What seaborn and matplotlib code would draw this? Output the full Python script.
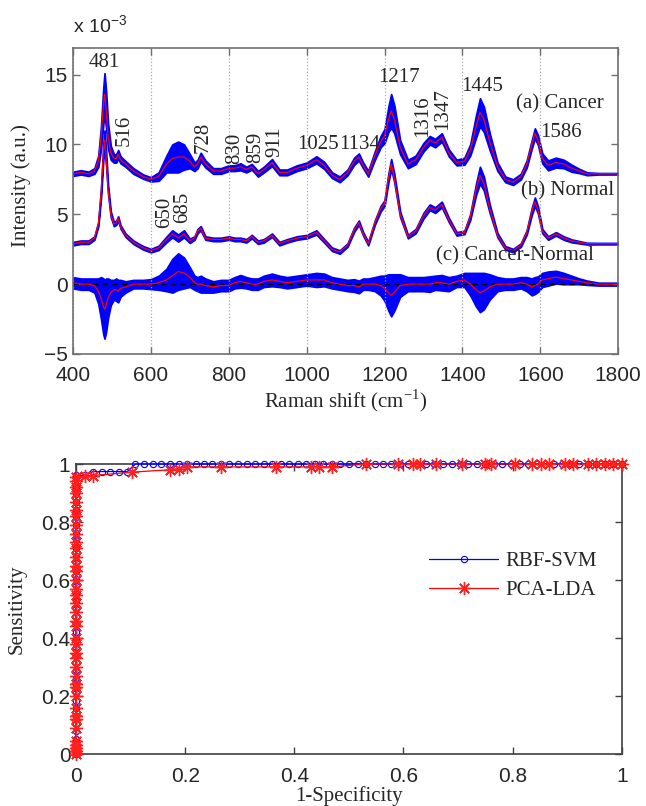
import numpy as np
import matplotlib
matplotlib.use("Agg")
import matplotlib.pyplot as plt
import seaborn as sns

# Raman shift grid (cm^-1)
shift = [400, 420, 440, 455, 465, 472, 478, 481, 485, 490,
         497, 505, 511, 516, 522, 535, 555, 580, 600, 620,
         640, 655, 670, 685, 700, 712, 720, 728, 740, 760,
         780, 800, 815, 830, 845, 859, 875, 890, 911, 930,
         950, 975, 1000, 1025, 1045, 1065, 1085, 1105, 1122, 1134,
         1145, 1158, 1175, 1190, 1200, 1210, 1217, 1225, 1240, 1260,
         1280, 1300, 1316, 1330, 1347, 1365, 1385, 1405, 1420, 1435,
         1445, 1455, 1470, 1490, 1510, 1530, 1550, 1565, 1578, 1586,
         1594, 1605, 1620, 1640, 1660, 1680, 1700, 1720, 1750, 1800]

# mean spectra (x 1e-3, offset as in the figure)
cancer_mean = [7.9, 8.0, 7.9, 8.1, 8.8, 10.5, 12.8, 13.6, 12.5, 10.6,
               9.4, 9.0, 9.0, 9.3, 8.9, 8.6, 8.1, 7.7, 7.5, 7.7,
               8.6, 9.0, 9.1, 9.1, 8.8, 8.4, 8.6, 9.1, 8.6, 8.1,
               8.1, 8.3, 8.3, 8.4, 8.2, 8.4, 7.9, 8.2, 8.7, 8.0,
               8.0, 8.3, 8.5, 8.9, 8.5, 7.8, 7.5, 8.0, 8.8, 9.1,
               8.5, 7.9, 9.2, 10.2, 10.6, 11.8, 12.4, 11.8, 9.8, 8.6,
               8.9, 9.8, 10.3, 10.1, 10.5, 9.4, 8.7, 8.8, 9.6, 11.3,
               12.3, 11.8, 10.2, 8.4, 7.5, 7.3, 7.7, 8.6, 10.0, 10.8,
               10.3, 9.0, 8.5, 8.7, 8.6, 8.3, 8.1, 7.9, 7.9, 7.9]
cancer_sd = [0.15, 0.15, 0.15, 0.2, 0.4, 0.8, 1.3, 1.5, 1.3, 0.9,
             0.5, 0.3, 0.3, 0.3, 0.25, 0.2, 0.2, 0.15, 0.15, 0.3,
             0.6, 1.0, 1.1, 0.9, 0.5, 0.3, 0.3, 0.3, 0.25, 0.2,
             0.2, 0.2, 0.2, 0.25, 0.2, 0.2, 0.2, 0.2, 0.25, 0.2,
             0.2, 0.2, 0.2, 0.25, 0.25, 0.2, 0.2, 0.2, 0.25, 0.25,
             0.2, 0.2, 0.3, 0.4, 0.5, 0.9, 1.2, 1.0, 0.5, 0.3,
             0.3, 0.3, 0.3, 0.3, 0.3, 0.25, 0.2, 0.25, 0.4, 0.8,
             1.0, 0.9, 0.6, 0.3, 0.2, 0.2, 0.2, 0.25, 0.3, 0.35,
             0.35, 0.35, 0.35, 0.35, 0.3, 0.25, 0.15, 0.1, 0.05, 0.05]

normal_mean = [2.9, 3.0, 3.0, 3.3, 4.3, 6.5, 9.5, 10.3, 9.0, 6.8,
               5.0, 4.3, 4.4, 4.7, 4.1, 3.5, 3.0, 2.6, 2.4, 2.6,
               3.2, 3.6, 3.3, 3.6, 3.1, 3.3, 3.8, 4.0, 3.3, 3.2,
               3.2, 3.3, 3.2, 3.2, 3.1, 3.4, 3.0, 3.1, 3.5, 2.9,
               3.1, 3.3, 3.4, 3.7, 3.1, 2.5, 2.3, 2.8, 3.9, 4.4,
               3.6, 2.9, 4.4, 5.4, 5.8, 7.6, 8.6, 7.6, 5.0, 3.4,
               3.8, 4.9, 5.5, 5.3, 5.7, 4.6, 3.6, 3.7, 4.8, 6.8,
               7.8, 7.2, 5.4, 3.5, 2.6, 2.4, 2.8, 3.7, 5.2, 5.9,
               5.3, 3.8, 3.3, 3.6, 3.3, 3.1, 3.0, 2.9, 2.9, 2.9]
normal_sd = [0.12, 0.12, 0.12, 0.12, 0.15, 0.3, 0.5, 0.7, 0.5, 0.3,
             0.2, 0.15, 0.15, 0.15, 0.12, 0.12, 0.12, 0.12, 0.12, 0.15,
             0.2, 0.25, 0.25, 0.25, 0.15, 0.12, 0.15, 0.15, 0.12, 0.12,
             0.12, 0.12, 0.12, 0.12, 0.12, 0.12, 0.12, 0.12, 0.12, 0.12,
             0.12, 0.12, 0.12, 0.15, 0.12, 0.12, 0.12, 0.12, 0.15, 0.15,
             0.12, 0.12, 0.15, 0.2, 0.2, 0.3, 0.35, 0.3, 0.2, 0.12,
             0.15, 0.2, 0.2, 0.2, 0.2, 0.15, 0.12, 0.12, 0.2, 0.4,
             0.6, 0.5, 0.3, 0.15, 0.12, 0.12, 0.12, 0.15, 0.25, 0.3,
             0.25, 0.15, 0.12, 0.12, 0.12, 0.1, 0.08, 0.06, 0.05, 0.05]

diff_mean = [0.1, 0.0, 0.0, -0.1, -0.5, -1.0, -1.6, -1.8, -1.5, -1.0,
             -0.6, -0.4, -0.4, -0.5, -0.3, -0.2, 0.0, 0.0, 0.0, 0.1,
             0.3, 0.6, 0.9, 0.8, 0.5, 0.1, 0.0, 0.0, -0.1, -0.2,
             -0.1, -0.1, 0.1, 0.2, 0.1, 0.0, 0.0, 0.2, 0.3, 0.2,
             0.1, 0.2, 0.3, 0.3, 0.3, 0.1, 0.0, -0.1, -0.1, -0.2,
             0.0, 0.0, 0.0, -0.1, -0.3, -0.6, -0.8, -0.6, -0.1, 0.0,
             0.0, 0.0, 0.0, 0.1, 0.1, 0.0, 0.2, 0.3, 0.0, -0.4,
             -0.6, -0.5, -0.2, 0.0, 0.0, 0.0, 0.1, 0.0, -0.2, -0.1,
             0.0, 0.3, 0.4, 0.5, 0.4, 0.3, 0.2, 0.1, 0.0, 0.0]
diff_sd = [0.4, 0.4, 0.4, 0.5, 0.9, 1.5, 2.0, 2.1, 1.9, 1.4,
           0.9, 0.7, 0.8, 0.8, 0.6, 0.4, 0.3, 0.3, 0.35, 0.5,
           0.8, 1.2, 1.3, 1.1, 0.7, 0.5, 0.5, 0.6, 0.5, 0.4,
           0.4, 0.4, 0.4, 0.45, 0.4, 0.4, 0.4, 0.4, 0.45, 0.4,
           0.4, 0.4, 0.4, 0.5, 0.45, 0.4, 0.4, 0.4, 0.45, 0.45,
           0.4, 0.4, 0.5, 0.7, 0.9, 1.3, 1.5, 1.3, 0.8, 0.5,
           0.5, 0.5, 0.55, 0.5, 0.55, 0.5, 0.4, 0.5, 0.8, 1.2,
           1.4, 1.3, 0.9, 0.5, 0.4, 0.4, 0.4, 0.5, 0.6, 0.6,
           0.55, 0.5, 0.5, 0.45, 0.4, 0.3, 0.2, 0.15, 0.1, 0.1]

# ROC curves
svm_fpr = [0.0, 0.0, 0.0, 0.0, 0.0, 0.0, 0.0, 0.0, 0.0, 0.0,
           0.0, 0.0, 0.0, 0.0, 0.0, 0.0, 0.0, 0.0, 0.0, 0.0,
           0.0, 0.0, 0.0, 0.0, 0.0, 0.0, 0.0, 0.0, 0.0, 0.0,
           0.0, 0.0, 0.0, 0.0, 0.0, 0.0, 0.0, 0.0,
           0.016, 0.031, 0.047, 0.063, 0.078, 0.094,
           0.109, 0.125, 0.141, 0.156, 0.172, 0.188, 0.203, 0.219, 0.234, 0.25,
           0.266, 0.281, 0.297, 0.313, 0.328, 0.344, 0.359, 0.375, 0.391, 0.406,
           0.422, 0.438, 0.453, 0.469, 0.484, 0.5, 0.516, 0.531, 0.547, 0.563,
           0.578, 0.594, 0.609, 0.625, 0.641, 0.656, 0.672, 0.688, 0.703, 0.719,
           0.734, 0.75, 0.766, 0.781, 0.797, 0.813, 0.828, 0.844, 0.859, 0.875,
           0.891, 0.906, 0.922, 0.938, 0.953, 0.969, 0.984, 1.0]
svm_tpr = [0.0, 0.026, 0.053, 0.079, 0.105, 0.132, 0.158, 0.184, 0.211, 0.237,
           0.263, 0.289, 0.316, 0.342, 0.368, 0.395, 0.421, 0.447, 0.474, 0.5,
           0.526, 0.553, 0.579, 0.605, 0.632, 0.658, 0.684, 0.711, 0.737, 0.763,
           0.789, 0.816, 0.842, 0.868, 0.895, 0.921, 0.947, 0.961,
           0.961, 0.974, 0.974, 0.974, 0.974, 0.974,
           1.0, 1.0, 1.0, 1.0, 1.0, 1.0, 1.0, 1.0, 1.0, 1.0,
           1.0, 1.0, 1.0, 1.0, 1.0, 1.0, 1.0, 1.0, 1.0, 1.0,
           1.0, 1.0, 1.0, 1.0, 1.0, 1.0, 1.0, 1.0, 1.0, 1.0,
           1.0, 1.0, 1.0, 1.0, 1.0, 1.0, 1.0, 1.0, 1.0, 1.0,
           1.0, 1.0, 1.0, 1.0, 1.0, 1.0, 1.0, 1.0, 1.0, 1.0,
           1.0, 1.0, 1.0, 1.0, 1.0, 1.0, 1.0, 1.0]

lda_fpr = [0.0, 0.0, 0.0, 0.0, 0.0, 0.0, 0.0, 0.0, 0.0, 0.0,
           0.0, 0.0, 0.0, 0.0, 0.0, 0.0, 0.0, 0.0, 0.0, 0.0,
           0.0, 0.0, 0.0, 0.0, 0.0, 0.0, 0.0, 0.0, 0.0, 0.0,
           0.0, 0.0, 0.0, 0.0, 0.0, 0.0, 0.0, 0.0, 0.0,
           0.016, 0.031, 0.102, 0.172, 0.188, 0.203, 0.266, 0.367, 0.43, 0.445,
           0.469, 0.531, 0.59, 0.617, 0.63, 0.66, 0.707, 0.75, 0.76, 0.805,
           0.836, 0.852, 0.867, 0.895, 0.91, 0.938, 0.953, 0.969, 0.984, 1.0]
lda_tpr = [0.0, 0.01, 0.02, 0.03, 0.045, 0.09, 0.12, 0.13, 0.16, 0.2,
           0.23, 0.24, 0.27, 0.3, 0.33, 0.35, 0.38, 0.4, 0.44, 0.46,
           0.49, 0.52, 0.55, 0.57, 0.6, 0.63, 0.65, 0.68, 0.71, 0.73,
           0.76, 0.79, 0.82, 0.84, 0.87, 0.9, 0.92, 0.94, 0.955,
           0.958, 0.96, 0.972, 0.98, 0.984, 0.99, 0.99, 0.99, 0.99, 0.99,
           0.99, 1.0, 1.0, 1.0, 1.0, 1.0, 1.0, 1.0, 1.0, 1.0,
           1.0, 1.0, 1.0, 1.0, 1.0, 1.0, 1.0, 1.0, 1.0, 1.0]

sns.set_style("white")
plt.rcParams['font.family'] = ['Liberation Sans', 'DejaVu Sans']
plt.rcParams['mathtext.fontset'] = 'custom'
plt.rcParams['mathtext.rm'] = 'Liberation Serif'
serif = ['Liberation Serif', 'DejaVu Serif']

fig = plt.figure(figsize=(6.46, 8.06), dpi=100)
ax1 = fig.add_axes([0.113, 0.5608, 0.844, 0.3796])
ax2 = fig.add_axes([0.1176, 0.0645, 0.845, 0.3598])

x = np.array(shift)
for mean, sd in [(cancer_mean, cancer_sd), (normal_mean, normal_sd), (diff_mean, diff_sd)]:
    m = np.array(mean)
    s = np.array(sd)
    ax1.fill_between(x, m - s, m + s, color='blue', edgecolor='blue', lw=1.3, zorder=2)
    sns.lineplot(x=x, y=m, ax=ax1, color='red', lw=0.9, zorder=4,
                 estimator=None, sort=False)
ax1.axhline(0, color='black', ls='--', lw=1.0, dashes=(4, 3), zorder=3)

ax1.set_xlim(400, 1800)
ax1.set_ylim(-5, 16.9)
ax1.set_xticks(range(400, 1801, 200))
ax1.set_yticks([-5, 0, 5, 10, 15])
ax1.grid(axis='x', ls=':', color='#aaaaaa', lw=0.9)
ax1.grid(axis='y', visible=False)
ax1.set_xlabel(r'Raman shift (cm$^{\mathregular{-1}}$)', family=serif, fontsize=15)
ax1.set_ylabel('Intensity (a.u.)', family=serif, fontsize=15)
ax1.xaxis.set_label_coords(0.5, -0.108)
ax1.yaxis.set_label_coords(-0.077, 0.55)
ax1.text(0.0, 1.035, r'x 10$^{\mathregular{-3}}$', transform=ax1.transAxes,
         fontsize=14, ha='left', va='bottom')

peaks = [('481', 481, 15.2, 0, 'center'), ('516', 531, 9.9, 90, 'center'),
         ('728', 734, 9.4, 90, 'center'), ('830', 816, 8.6, 90, 'center'),
         ('859', 870, 8.7, 90, 'center'), ('911', 919, 9.1, 90, 'center'),
         ('1025', 1029, 9.3, 0, 'center'), ('1134', 1135, 9.3, 0, 'center'),
         ('1217', 1237, 14.1, 0, 'center'), ('1316', 1297, 10.5, 90, 'center'),
         ('1347', 1350, 11.0, 90, 'center'), ('1445', 1451, 13.5, 0, 'center'),
         ('1586', 1600, 10.2, 0, 'left'), ('650', 634, 4.0, 90, 'center'),
         ('685', 682, 4.4, 90, 'center')]
for txt, px, py, rot, ha in peaks:
    ax1.text(px, py, txt, rotation=rot, ha=ha, va='bottom', family=serif,
             fontsize=15, zorder=5)
for txt, px, py in [('(a) Cancer', 1651, 12.9), ('(b) Normal', 1669, 6.7),
                    ('(c) Cancer-Normal', 1535, 2.0)]:
    ax1.text(px, py, txt, ha='center', va='center', family=serif, fontsize=15, zorder=5)

# ROC panel
sns.lineplot(x=svm_fpr, y=svm_tpr, ax=ax2, color='blue', lw=0.9, marker='o',
             markersize=4.5, markerfacecolor='none', markeredgecolor='blue',
             markeredgewidth=0.8, estimator=None, sort=False, label='RBF-SVM',
             zorder=4, clip_on=False)
sns.lineplot(x=lda_fpr, y=lda_tpr, ax=ax2, color='red', lw=0.9, marker=(8, 2, 0),
             markersize=9.5, markeredgecolor='#ff2020', markeredgewidth=1.0,
             estimator=None, sort=False, label='PCA-LDA', zorder=5, clip_on=False)
ax2.set_xlim(0, 1)
ax2.set_ylim(0, 1)
ax2.set_xticks([0, 0.2, 0.4, 0.6, 0.8, 1])
ax2.set_yticks([0, 0.2, 0.4, 0.6, 0.8, 1])
ax2.set_xticklabels(['0', '0.2', '0.4', '0.6', '0.8', '1'])
ax2.set_yticklabels(['0', '0.2', '0.4', '0.6', '0.8', '1'])
ax2.set_xlabel('1-Specificity', family=serif, fontsize=15)
ax2.set_ylabel('Sensitivity', family=serif, fontsize=15)
ax2.xaxis.set_label_coords(0.5, -0.11)
ax2.yaxis.set_label_coords(-0.09, 0.5)
leg = ax2.legend(loc='upper left', bbox_to_anchor=(0.628, 0.735), frameon=False,
                 prop={'family': serif, 'size': 15}, handlelength=3.3,
                 borderpad=0, labelspacing=0.45, handletextpad=0.35)

for ax, sc in [(ax1, '#707070'), (ax2, '#404040')]:
    for sp in ax.spines.values():
        sp.set_visible(True)
        sp.set_color(sc)
        sp.set_linewidth(1.2)
        sp.set_zorder(3)
    ax.tick_params(direction='in', length=5, width=1, color=sc, top=True, right=True,
                   bottom=True, left=True, labelsize=15)
    ax.tick_params(axis='x', pad=9)
    ax.tick_params(axis='y', pad=4)
    ax.set_axisbelow(False)

fig.savefig('out.png', dpi=100)
